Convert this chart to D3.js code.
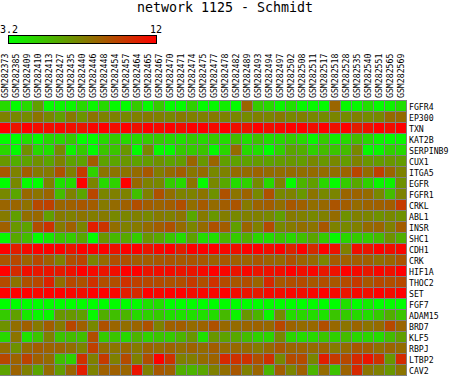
<!DOCTYPE html>
<html>
<head>
<meta charset="utf-8">
<script src="https://cdn.jsdelivr.net/npm/d3@7"></script>
<style>
  body { margin: 0; background: #fff; }
  text { font-family: "DejaVu Sans Mono", monospace; fill: #000; }
</style>
</head>
<body>
<div id="chart"></div>
<script>
// samples (columns) and genes (rows)
const samples = ["GSM282373","GSM282385","GSM282409","GSM282410","GSM282413","GSM282427","GSM282435",
  "GSM282440","GSM282446","GSM282448","GSM282454","GSM282457","GSM282464","GSM282465","GSM282467",
  "GSM282470","GSM282471","GSM282474","GSM282475","GSM282477","GSM282478","GSM282482","GSM282489",
  "GSM282493","GSM282494","GSM282497","GSM282502","GSM282508","GSM282511","GSM282517","GSM282518",
  "GSM282528","GSM282535","GSM282540","GSM282551","GSM282565","GSM282569"];

const genes = ["FGFR4","EP300","TXN","KAT2B","SERPINB9","CUX1","ITGA5","EGFR","FGFR1","CRKL","ABL1",
  "INSR","SHC1","CDH1","CRK","HIF1A","THOC2","SET","FGF7","ADAM15","BRD7","KLF5","RBPJ","LTBP2","CAV2"];

const colorMin = 3.2, colorMax = 12;

// expression values, one row per gene
const expr = [
  [4.5,3.3,4.5,6.5,3.3,3.5,3.5,4.5,3.5,4.5,3.4,3.3,5.0,3.3,5.0,3.3,3.3,4.8,3.3,3.4,3.8,3.3,8.5,5.0,4.5,3.5,4.3,3.4,3.4,3.3,8.5,3.4,3.4,4.3,3.3,3.6,4.3],
  [7.5,7.3,7.2,8.0,7.3,6.5,7.8,6.9,8.0,7.5,7.5,7.3,7.6,7.8,7.6,7.3,7.8,7.6,7.6,7.8,7.5,7.4,7.2,7.6,7.4,7.8,7.3,7.6,7.3,7.2,7.4,7.2,7.6,7.2,7.3,8.3,8.3],
  [12,11.3,12,11.6,11.6,11.8,11.5,11.3,11.8,12,11.6,12,11.4,12,11.7,12,11.6,12,12,11.7,12,11.5,11.3,12,11.6,11.8,12,12,11.5,12,11.4,12,11.0,11.4,12,11.6,12],
  [3.3,3.2,4.3,3.3,4.5,4.5,5.0,3.3,3.3,4.5,5.0,4.5,4.5,5.0,5.0,4.5,4.3,5.0,4.5,5.0,4.4,5.5,4.3,5.3,4.3,4.5,5.0,4.5,3.5,5.0,3.8,4.5,5.5,4.5,3.6,3.4,3.5],
  [4.6,3.3,7.0,4.5,4.3,7.2,3.6,5.0,3.3,5.2,5.2,6.8,3.3,7.3,3.4,3.4,5.0,5.0,5.2,3.4,4.6,8.3,4.5,4.3,3.2,4.8,6.3,6.0,4.8,5.5,5.2,5.5,7.3,3.4,3.5,4.8,4.5],
  [6.8,6.0,6.4,7.0,6.3,7.5,6.4,6.4,8.8,6.4,6.3,6.8,6.4,6.6,7.0,6.4,6.6,8.5,6.8,8.5,6.5,6.4,6.4,6.6,6.4,6.6,6.8,6.6,7.3,6.8,7.3,6.6,7.5,6.8,6.6,6.8,6.6],
  [9.0,7.5,8.8,7.8,7.8,9.2,7.6,10.0,4.8,8.0,8.0,8.0,8.3,9.0,7.7,8.3,8.8,7.9,8.3,7.3,7.5,8.3,8.3,8.6,8.3,8.2,8.3,8.2,8.3,8.3,8.2,8.6,9.6,8.3,9.8,8.5,7.5],
  [3.2,7.3,3.3,3.2,7.5,4.2,4.4,12,7.4,4.5,4.8,12,8.4,7.5,7.3,5.0,4.5,8.0,3.3,7.3,6.2,4.4,4.8,7.2,4.5,7.5,3.3,5.8,6.5,4.6,3.3,5.0,6.2,4.8,3.5,3.6,7.0],
  [7.3,6.3,8.4,8.0,8.5,5.5,7.5,6.3,9.6,7.4,7.6,7.5,5.4,7.6,9.2,8.2,7.5,7.5,8.0,7.0,9.2,8.0,8.6,7.3,9.2,7.3,7.5,6.8,8.0,7.3,7.4,8.5,8.6,8.3,7.3,5.5,7.5],
  [8.5,8.5,8.1,9.5,9.8,8.5,8.7,9.0,8.8,7.8,8.3,8.7,9.3,8.8,8.6,8.8,9.3,8.2,8.9,8.3,8.8,9.1,7.8,8.6,8.8,8.2,9.0,8.7,8.2,8.4,9.1,8.8,8.3,8.6,8.7,8.8,10.0],
  [7.8,6.5,8.2,8.4,6.5,7.8,7.6,8.0,7.7,7.8,7.3,7.4,7.6,7.3,7.8,7.6,8.0,6.2,7.8,6.8,7.7,7.3,7.6,7.6,7.3,6.5,7.8,7.6,7.3,7.6,8.3,7.0,7.6,7.4,7.0,7.3,7.0],
  [8.7,6.8,6.4,9.3,10.3,7.8,8.7,7.4,11.0,10.2,8.2,7.6,7.8,8.3,8.8,9.2,8.3,7.4,8.3,9.2,8.8,6.5,8.5,7.6,9.4,7.3,7.8,8.2,8.0,9.0,7.5,7.3,7.6,8.3,8.5,7.6,8.8],
  [3.4,6.2,5.5,3.3,4.0,5.2,5.0,6.2,3.3,6.8,5.6,6.2,5.0,6.8,6.2,5.2,4.4,6.4,4.4,4.3,5.8,5.0,6.0,4.6,4.4,5.2,4.6,5.4,6.3,5.0,3.4,4.6,5.0,5.0,5.5,7.0,6.0],
  [12,11.0,11.7,12,12,12,11.3,12,12,12,11.4,12,12,11.3,11.8,12,11.0,12,12,12,11.8,11.5,12,12,11.6,12,10.8,12,10.5,12,11.4,7.6,11.5,11.3,12,11.5,11.8],
  [9.1,9.5,8.6,9.5,8.7,7.6,9.3,9.7,7.4,8.3,9.3,9.2,8.8,8.8,9.0,9.1,9.0,9.1,9.0,8.6,9.0,8.7,8.6,9.0,8.6,8.4,9.2,8.6,8.3,7.4,8.9,8.7,8.8,8.7,8.2,8.5,9.1],
  [12,10.5,11.5,11.2,11.3,11.1,11.4,12,11.7,11.3,11.5,12,12,11.3,11.5,11.6,11.3,11.3,11.7,12,11.8,11.3,11.8,11.3,11.4,11.5,12,11.5,11.8,11.2,11.4,12,11.7,11.2,11.8,11.4,12],
  [9.4,8.0,9.2,9.5,10.8,8.2,9.5,9.2,10.3,9.3,9.3,10.3,9.8,9.5,9.4,9.2,9.3,10.0,9.3,10.3,9.4,9.0,9.3,8.5,10.6,9.0,9.3,9.4,9.0,9.3,9.0,9.4,10.0,9.0,9.5,9.3,9.5],
  [12,12,12,11.8,12,12,11.8,11.6,12,12,11.8,11.0,10.5,12,11.8,12,12,11.6,11.8,11.8,12,11.6,11.3,11.1,11.7,11.6,11.8,11.6,11.8,12,11.7,11.3,11.7,11.5,12,11.6,12],
  [3.2,3.2,3.2,3.2,3.3,3.2,3.2,3.3,3.2,3.2,3.3,3.2,3.3,4.2,4.3,3.2,3.2,3.3,3.2,3.2,3.3,3.2,3.2,3.2,3.3,3.2,3.2,3.2,3.3,3.2,3.2,4.3,3.2,3.8,3.2,3.3,3.2],
  [5.0,6.5,4.0,3.5,3.5,6.8,6.8,6.5,3.4,6.0,5.4,5.8,4.5,4.8,5.0,4.3,4.2,4.3,4.3,4.4,5.6,3.6,6.8,5.8,3.5,7.2,4.4,4.6,4.4,4.2,5.2,5.0,4.5,4.4,5.0,6.0,5.2],
  [7.0,8.2,8.7,7.8,8.8,7.8,9.6,8.7,7.3,9.2,8.5,8.2,8.5,9.2,7.5,8.7,8.8,8.3,8.6,9.2,8.4,8.3,8.5,8.6,8.4,9.6,8.6,8.3,8.4,9.3,8.4,8.0,8.5,8.0,8.3,9.5,8.5],
  [4.5,8.0,4.2,5.2,7.6,5.2,5.5,5.4,9.3,5.0,5.2,4.5,5.8,4.8,5.2,5.0,5.8,6.8,4.2,6.8,6.4,6.2,5.5,4.8,4.6,7.3,4.6,4.4,4.5,5.2,4.8,5.5,4.6,4.6,4.4,5.5,6.5],
  [8.2,7.0,8.3,8.8,8.6,8.5,8.2,7.5,9.8,8.3,8.0,8.4,7.8,8.6,8.3,8.6,8.2,8.6,8.3,8.8,8.3,8.4,8.3,7.8,8.4,9.0,8.5,8.6,8.3,8.6,7.8,8.3,9.0,8.8,8.2,8.5,8.3],
  [9.5,8.6,9.7,8.7,8.3,5.4,4.8,10.3,7.6,10.0,7.6,9.4,7.6,9.3,12,10.3,7.6,7.7,8.3,8.6,10.6,10.3,10.3,9.3,10.3,7.3,9.4,9.4,7.4,11.0,10.0,9.5,10.6,11.3,10.3,6.8,10.5],
  [6.4,8.6,7.6,6.3,8.3,6.6,8.5,11.0,7.5,8.7,8.7,8.5,11.3,7.6,9.0,8.7,6.0,5.8,6.3,7.6,8.2,9.0,7.6,8.5,5.8,8.8,7.4,8.7,5.8,8.3,5.3,8.6,10.6,8.0,7.6,6.8,8.0]
];

const W = 454, H = 376;
const cell = 11;
const gridTop = 100;

const svg = d3.select("#chart").append("svg")
  .attr("width", W)
  .attr("height", H);

const x = d3.scaleBand().domain(samples).range([0, samples.length * cell]);
const y = d3.scaleBand().domain(genes).range([gridTop, gridTop + genes.length * cell]);
const color = d3.scaleLinear().domain([colorMin, colorMax]).range(["#00ff00", "#ff0000"]).clamp(true);

// title
svg.append("text")
  .attr("x", 225)
  .attr("y", 12)
  .attr("text-anchor", "middle")
  .style("font-size", "13.3px")
  .text("network 1125 - Schmidt");

// colour bar
const defs = svg.append("defs");
const grad = defs.append("linearGradient").attr("id", "cbar");
grad.append("stop").attr("offset", "0%").attr("stop-color", color(colorMin));
grad.append("stop").attr("offset", "100%").attr("stop-color", color(colorMax));

const cb = d3.scaleLinear().domain([colorMin, colorMax]).range([8.5, 156.5]);
svg.append("rect")
  .attr("x", cb(colorMin))
  .attr("y", 35.5)
  .attr("width", cb(colorMax) - cb(colorMin))
  .attr("height", 8)
  .attr("fill", "url(#cbar)")
  .attr("stroke", "#000")
  .attr("stroke-width", 1);

svg.append("text").attr("x", 0).attr("y", 33).style("font-size", "10px").text(colorMin);
svg.append("text").attr("x", 150).attr("y", 33).style("font-size", "10px").text(colorMax);

// grid background (gray lines between cells)
svg.append("rect")
  .attr("x", 0)
  .attr("y", gridTop)
  .attr("width", x.range()[1])
  .attr("height", y.range()[1] - gridTop + 1)
  .attr("fill", "#808080");

const cells = [];
genes.forEach((g, i) => samples.forEach((s, j) => cells.push({ gene: g, sample: s, v: expr[i][j] })));

svg.append("g").selectAll("rect")
  .data(cells)
  .join("rect")
  .attr("x", d => x(d.sample))
  .attr("y", d => y(d.gene) + 1)
  .attr("width", x.bandwidth() - 1)
  .attr("height", y.bandwidth() - 1)
  .attr("fill", d => color(d.v));

// column labels, vertical
svg.append("g").selectAll("text")
  .data(samples)
  .join("text")
  .attr("transform", d => `translate(${x(d) + 7.5},98) rotate(-90)`)
  .style("font-size", "8.2px")
  .text(d => d);

// row labels
svg.append("g").selectAll("text")
  .data(genes)
  .join("text")
  .attr("x", 409)
  .attr("y", d => y(d) + y.bandwidth() / 2 + 4)
  .style("font-size", "8.2px")
  .text(d => d);
</script>
</body>
</html>
